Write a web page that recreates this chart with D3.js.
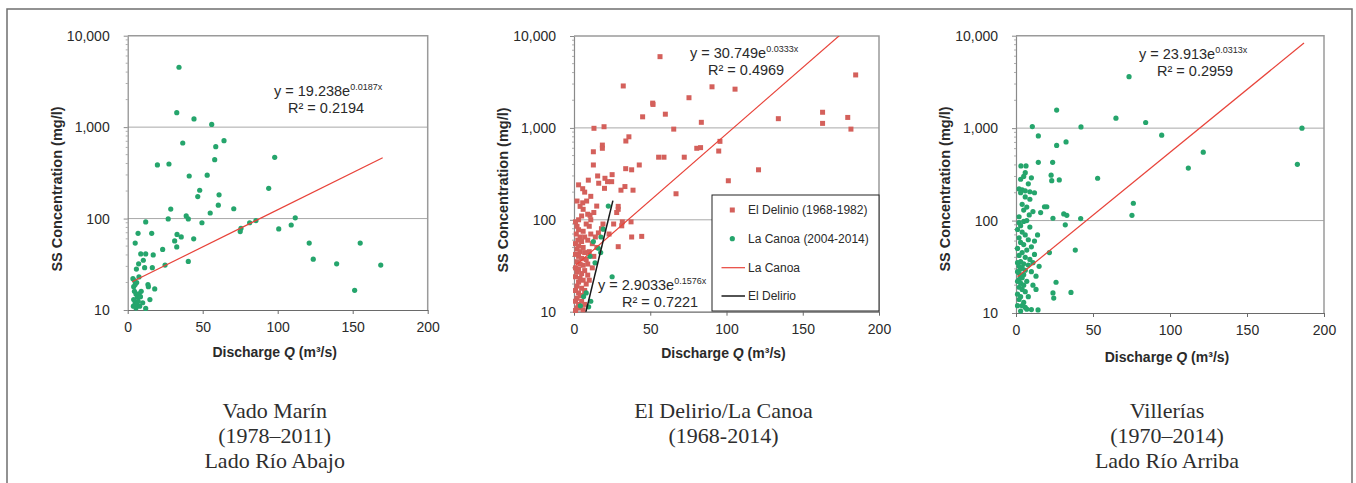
<!DOCTYPE html>
<html>
<head>
<meta charset="utf-8">
<script src="https://cdn.jsdelivr.net/npm/d3@7"></script>
<style>
  body { margin: 0; background: #fff; }
  svg { display: block; }
</style>
</head>
<body>
<div id="chart"></div>
<script>
var svgWidth = 1356;
var svgHeight = 483;

// Discharge Q (m3/s), SS concentration (mg/l)
var vadoMarin = [
  [34.2,4520],[32.7,1440],[44.2,1230],[56,1070],[36.7,671],[64.2,711],[58.7,612],[58,441],
  [98,468],[19.8,386],[27.5,395],[41,292],[53,298],[94,214],[48,204],[46.7,174],[60.9,182],
  [60.4,140],[28.7,127],[70.7,128],[55,115],[39,107],[40.4,99],[27,99],[49.5,90],[12,92],
  [81.3,90],[85.5,95],[111.7,102],[75.5,78],[75,72],[100.7,77],[109,85],[6.9,69],[16,69],
  [32.9,67],[35.7,63],[31.3,57],[44,60],[32.7,49],[5,54],[23.3,46],[121,54],[155,54],
  [8.7,41],[12,41],[17,40],[10.4,35],[7.3,32],[16.4,29],[11.3,29],[5.8,28],[24.9,31],
  [123.7,36],[139.3,32],[168.7,31],[151.3,16.4],[40.4,34],[3.5,22],[4.5,21],[5,19],[6,20],
  [4,18],[7.5,23],[13.5,19],[13.8,18],[18,17],[14.8,13],[4.5,16],[5.5,15],[6.5,14],[7.5,15],
  [8.5,14],[5,12],[6,11.5],[7,12.5],[4,13],[8,11],[5.5,10.5],[12,10.4],[9,16],[3.8,11],[10,12]
];

var elDelirio = [
  [56.4,5960],[184.7,3770],[32.3,2860],[90.5,2800],[105.6,2640],[75.4,2130],[51.6,1860],[51.8,1800],
  [59.9,1410],[45,1320],[83.5,1150],[134,1260],[163,1480],[163,1120],[179.5,1300],[181.6,970],
  [65.4,970],[13.1,990],[19.7,1030],[36,800],[34,720],[18.6,650],[18.6,600],[12.7,550],[95.7,714],
  [94.9,560],[80.5,600],[83,610],[55.5,480],[59,480],[72.3,480],[12.7,395],[42.8,395],[33.9,360],
  [37.8,350],[121,350],[15.5,300],[20.3,283],[24.7,260],[9.4,270],[16.2,250],[30.8,210],[33.4,230],
  [38.7,210],[101.2,266],[5.7,218],[66.9,192],[5.7,153],[8.3,160],[14.9,141],[10.5,112],[29,130],
  [29,140],[31.7,95],[37.4,95],[31.3,86],[37.8,65],[44.4,66],[29,51],[19,90],[18,80],
  [1,95],[2,85],[3,78],[1.5,70],[4,65],[2.5,60],[5,58],[1,55],[3,52],[6,50],[2,48],[4,45],[7,44],
  [1,42],[3,40],[5,38],[8,37],[2,35],[4,33],[6,32],[1,30],[3,29],[7,28],[2,27],[5,26],[9,25],
  [1,24],[4,23],[6,22],[3,21],[8,20],[2,19],[5,18],[1,17],[7,17],[3,16],[4,15],[6,15],[2,14],
  [5,13],[1,13],[3,12],[7,12],[2,11],[4,11],[6,10.5],[1,10.3],[9,60],[11,70],[12,55],[14,65],
  [10,45],[13,40],[16,72],[8,90],[11,100],[6,75],[10,85],[15,50],[12,30],[9,33],[10,22],[7,65],
  [3,100],[5,110],[9,115],[13,120],[6,130],[4,140],[2,160],[11,180],[7,200],[22,260],[20,220],
  [3,240],[25,310],[28,120],[26,90],[23,70]
];

var laCanoa = [
  [22.5,141],[19.2,79],[17.7,65],[12.7,58],[15.9,49],[10.5,40],[13.8,34],[25,24],[6.3,14.6],
  [9.6,11.3],[4.2,11.6],[17.5,44],[8,16],[11,13]
];

var villerias = [
  [73.4,3600],[26.4,1570],[64.9,1280],[84.2,1150],[10.6,1040],[42.2,1030],[185.7,1000],[14.5,824],
  [94.6,840],[32.5,710],[26.4,650],[121.6,550],[182.7,406],[111.9,370],[3.2,390],[6.5,390],
  [14.5,427],[23.8,427],[53,287],[28.1,275],[23.2,270],[22.8,310],[4,215],[6,210],[9,205],[9,170],
  [76.2,154],[75.3,114],[18.5,141],[20,141],[5,130],[8.6,115],[16,122],[31,118],[33,114],[32,90],
  [24,106],[42,105],[5,98],[38.5,48],[21.7,45],[26,21.5],[35.7,16.7],[24,16.5],[24.5,14.5],
  [14.3,10.8],[10,10.9],[6,11.5],
  [2,95],[3,88],[1,80],[4,75],[6,70],[2,65],[8,62],[3,58],[5,55],[10,52],[1,50],[7,48],[4,45],
  [12,43],[2,42],[6,40],[9,38],[3,36],[1,35],[5,34],[8,33],[2,32],[4,31],[3,30],[6,29],[1,28],
  [2,27],[5,26],[3,25],[4,24],[2,23],[7,22],[1,22],[3,21],[5,20],[2,19],[4,18],[6,17],[1,16],
  [3,15],[8,15],[2,14],[5,13],[4,12],[1,12],[7,11],[3,10.5],[10,28],[11,35],[13,25],[12,60],
  [14,70],[9,85],[7,100],[11,20],[15,32],[13,18],[2,110],[4,150],[6,180],[3,280],[8,250],[2,220],
  [5,300],[10,290],[12,200],[7,140],[11,125],[6,330],[3,200]
];

// exponential fits y = a * e^(b x), drawn between x0 and x1
var fitVado = { a: 19.238, b: 0.0187, x0: 3, x1: 170 };
var fitCanoa = { a: 30.749, b: 0.0333, x0: 1, x1: 186 };
var fitDelirio = { a: 2.9033, b: 0.1576, x0: 4, x1: 25.5 };
var fitVillerias = { a: 23.913, b: 0.0313, x0: 1, x1: 187 };

var xTicks = [0, 50, 100, 150, 200];
var yTicks = [10, 100, 1000, 10000];
var yGrid = [100, 1000];

var legendLabels = ["El Delinio (1968-1982)", "La Canoa (2004-2014)", "La Canoa", "El Delirio"];

var captionVado = ["Vado Marín", "(1978–2011)", "Lado Río Abajo"];
var captionDelirio = ["El Delirio/La Canoa", "(1968-2014)"];
var captionVillerias = ["Villerías", "(1970–2014)", "Lado Río Arriba"];

var green = "#25a56c";
var red = "#d4605b";
var trendRed = "#e8433a";

var svg = d3.select("#chart")
  .append("svg")
  .attr("width", svgWidth)
  .attr("height", svgHeight);

// outer frame
svg.append("rect")
  .attr("x", 7).attr("y", 9)
  .attr("width", 1345).attr("height", 500)
  .attr("fill", "none")
  .attr("stroke", "#6f6f6f")
  .attr("stroke-width", 1.5);

function fmtTick(d) { return d3.format(",")(d); }

function drawPanel(p, idx) {
  var x = d3.scaleLinear().domain([0, 200]).range([p.left, p.right]);
  var y = d3.scaleLog().domain([10, 10000]).range([p.bottom, p.top]);
  var g = svg.append("g");
  var midX = (p.left + p.right) / 2 - 3;

  // gridlines
  g.selectAll(".grid").data(yGrid).enter().append("line")
    .attr("x1", p.left).attr("x2", p.right)
    .attr("y1", d => y(d)).attr("y2", d => y(d))
    .attr("stroke", "#a8a8a8").attr("stroke-width", 1);

  // plot area border top/right
  g.append("path")
    .attr("d", `M${p.left},${p.top}H${p.right}V${p.bottom}`)
    .attr("fill", "none").attr("stroke", "#9a9a9a").attr("stroke-width", 1.5);

  // minor log ticks
  var minor = y.ticks().filter(d => yTicks.indexOf(d) < 0);
  g.selectAll(".minor").data(minor).enter().append("line")
    .attr("x1", p.left - 2).attr("x2", p.left)
    .attr("y1", d => y(d)).attr("y2", d => y(d))
    .attr("stroke", "#b0b0b0").attr("stroke-width", 1);

  var leftAxis = d3.axisLeft(y).tickValues(yTicks).tickFormat(fmtTick)
    .tickSize(4).tickSizeOuter(0).tickPadding(14);
  var ga = g.append("g").attr("transform", `translate(${p.left},0)`).call(leftAxis);
  ga.select(".domain").attr("stroke", "#8a8a8a").attr("stroke-width", 1.2);
  ga.selectAll(".tick line").attr("stroke", "#8a8a8a");
  ga.selectAll("text").attr("font-family", "Arial, 'Liberation Sans', sans-serif")
    .attr("font-size", 14).attr("fill", "#2a2a2a");

  var bottomAxis = d3.axisBottom(x).tickValues(xTicks).tickSize(4).tickSizeOuter(0).tickPadding(8);
  var gb = g.append("g").attr("transform", `translate(0,${p.bottom})`).call(bottomAxis);
  gb.select(".domain").attr("stroke", "#6a6a6a").attr("stroke-width", 1.2);
  gb.selectAll(".tick line").attr("stroke", "#6a6a6a");
  gb.selectAll("text").attr("font-family", "Arial, 'Liberation Sans', sans-serif")
    .attr("font-size", 14).attr("fill", "#2a2a2a");

  // axis titles
  g.append("text")
    .attr("transform", `translate(${p.yTitleX},${p.yTitleY}) rotate(-90)`)
    .attr("text-anchor", "middle")
    .attr("font-family", "Arial, 'Liberation Sans', sans-serif")
    .attr("font-weight", "bold").attr("font-size", 14.5).attr("fill", "#2a2a2a")
    .text("SS Concentration (mg/l)");

  var xt = g.append("text")
    .attr("x", midX).attr("y", p.xTitleY)
    .attr("text-anchor", "middle")
    .attr("font-family", "Arial, 'Liberation Sans', sans-serif")
    .attr("font-weight", "bold").attr("font-size", 14).attr("fill", "#2a2a2a");
  xt.append("tspan").text("Discharge ");
  xt.append("tspan").attr("font-style", "italic").text("Q");
  xt.append("tspan").text(" (m³/s)");

  // clip for trend lines
  var clipId = "clip" + idx;
  svg.append("clipPath").attr("id", clipId).append("rect")
    .attr("x", p.left).attr("y", p.top)
    .attr("width", p.right - p.left).attr("height", p.bottom - p.top);

  // scatter series
  p.series.forEach(function(s) {
    if (s.shape === "square") {
      g.selectAll(null).data(s.data).enter().append("rect")
        .attr("x", d => x(d[0]) - 2.5).attr("y", d => y(d[1]) - 2.5)
        .attr("width", 5).attr("height", 5)
        .attr("fill", s.color);
    } else {
      g.selectAll(null).data(s.data).enter().append("circle")
        .attr("cx", d => x(d[0])).attr("cy", d => y(d[1]))
        .attr("r", 2.6).attr("fill", s.color);
    }
  });

  // trend lines (straight on a log axis)
  p.fits.forEach(function(f) {
    var pts = [f.x0, f.x1].map(q => [x(q), y(f.a * Math.exp(f.b * q))]);
    g.append("line")
      .attr("clip-path", `url(#${clipId})`)
      .attr("x1", pts[0][0]).attr("y1", pts[0][1])
      .attr("x2", pts[1][0]).attr("y2", pts[1][1])
      .attr("stroke", f.color).attr("stroke-width", f.width);
  });

  // equations
  p.eqs.forEach(function(e) {
    var t = g.append("text")
      .attr("x", e.x).attr("y", e.y)
      .attr("font-family", "Arial, 'Liberation Sans', sans-serif")
      .attr("font-size", 14.5).attr("fill", "#2a2a2a");
    t.append("tspan").text("y = " + e.a + "e");
    t.append("tspan").attr("dy", -6).attr("font-size", 9).text(e.b + "x");
    g.append("text")
      .attr("x", e.rx).attr("y", e.y + 17)
      .attr("font-family", "Arial, 'Liberation Sans', sans-serif")
      .attr("font-size", 14.5).attr("fill", "#2a2a2a")
      .text("R² = " + e.r2);
  });

  // caption below the chart
  var cap = svg.append("text")
    .attr("text-anchor", "middle")
    .attr("font-family", "'Liberation Serif', 'Times New Roman', serif")
    .attr("font-size", 22).attr("fill", "#2e2e2e");
  p.caption.forEach(function(line, i) {
    cap.append("tspan").attr("x", midX).attr("y", 418 + i * 25).text(line);
  });

  return { x: x, y: y, g: g };
}

// Panel 1
drawPanel({
  left: 127.7, right: 427.7, top: 35.7, bottom: 310,
  yTitleX: 62, yTitleY: 189, xTitleY: 357,
  series: [{ data: vadoMarin, color: green, shape: "circle" }],
  fits: [Object.assign({ color: trendRed, width: 1.2 }, fitVado)],
  eqs: [{ x: 274, y: 96, rx: 288, a: "19.238", b: "0.0187", r2: "0.2194" }],
  caption: captionVado
}, 1);

// Panel 2
var p2 = drawPanel({
  left: 574, right: 879, top: 36, bottom: 311.7,
  yTitleX: 508, yTitleY: 190, xTitleY: 358,
  series: [{ data: elDelirio, color: red, shape: "square" },
           { data: laCanoa, color: green, shape: "circle" }],
  fits: [Object.assign({ color: trendRed, width: 1.2 }, fitCanoa),
         Object.assign({ color: "#1a1a1a", width: 1.5 }, fitDelirio)],
  eqs: [{ x: 690, y: 58, rx: 708, a: "30.749", b: "0.0333", r2: "0.4969" },
        { x: 598, y: 290, rx: 622, a: "2.9033", b: "0.1576", r2: "0.7221" }],
  caption: captionDelirio
}, 2);

// legend for panel 2
var lg = p2.g.append("g");
lg.append("rect")
  .attr("x", 712).attr("y", 195).attr("width", 167).attr("height", 116)
  .attr("fill", "#fff").attr("stroke", "#222").attr("stroke-width", 1);
var legendY = [210, 238.7, 267.7, 296];
legendLabels.forEach(function(label, i) {
  var ly = legendY[i];
  if (i === 0) {
    lg.append("rect").attr("x", 729.8).attr("y", ly - 2.5).attr("width", 5).attr("height", 5).attr("fill", red);
  } else if (i === 1) {
    lg.append("circle").attr("cx", 732.3).attr("cy", ly).attr("r", 2.6).attr("fill", green);
  } else {
    lg.append("line").attr("x1", 721.5).attr("x2", 745).attr("y1", ly).attr("y2", ly)
      .attr("stroke", i === 2 ? trendRed : "#1a1a1a").attr("stroke-width", i === 2 ? 1.2 : 1.5);
  }
  lg.append("text")
    .attr("x", 748).attr("y", ly + 4.3)
    .attr("font-family", "Arial, 'Liberation Sans', sans-serif")
    .attr("font-size", 12).attr("fill", "#2a2a2a")
    .text(label);
});

// Panel 3
drawPanel({
  left: 1016, right: 1324, top: 35.7, bottom: 313,
  yTitleX: 950, yTitleY: 189, xTitleY: 362,
  series: [{ data: villerias, color: green, shape: "circle" }],
  fits: [Object.assign({ color: trendRed, width: 1.2 }, fitVillerias)],
  eqs: [{ x: 1139, y: 59, rx: 1157, a: "23.913", b: "0.0313", r2: "0.2959" }],
  caption: captionVillerias
}, 3);
</script>
</body>
</html>
